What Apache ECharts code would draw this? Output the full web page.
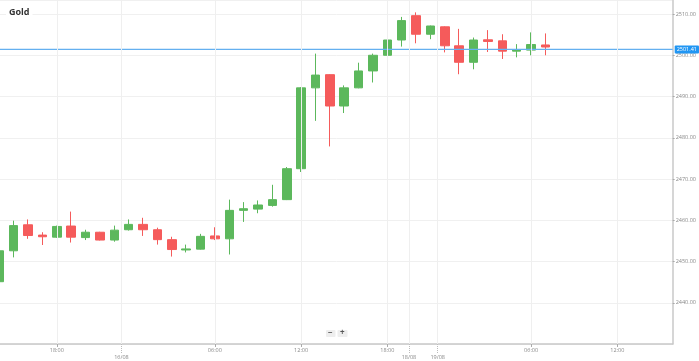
<!DOCTYPE html>
<html><head><meta charset="utf-8">
<script src="https://cdn.jsdelivr.net/npm/echarts@6/dist/echarts.min.js"></script>
<style>html,body{margin:0;padding:0;background:#fff}#c{width:699px;height:361px}</style>
</head><body><div id="c"></div>
<script>
// candle slot positions (trading-hour index on the x axis)
const slots  = [0,1,2,3,4,5,6,7,8,9,10,11,12,13,14,15,16,17,18,19,20,21,22,23,24,25,26,27,28,29,30,31,32,33,34,35,36,37,38];
const opens  = [2445.1,2452.6,2458.9,2456.4,2455.9,2458.6,2455.8,2457.1,2455.2,2457.7,2459.0,2457.7,2455.3,2452.8,2453.0,2456.2,2455.5,2462.4,2462.7,2463.6,2465.0,2472.5,2492.1,2495.3,2487.7,2492.1,2496.2,2500.0,2503.7,2509.6,2505.1,2506.9,2502.3,2498.3,2503.75,2503.5,2501.0,2501.25,2502.5];
const closes = [2452.6,2458.7,2456.3,2456.0,2458.5,2455.9,2457.1,2455.2,2457.6,2459.0,2457.7,2455.3,2452.9,2453.05,2456.1,2455.5,2462.4,2462.8,2463.7,2465.0,2472.5,2492.1,2495.2,2487.7,2492.1,2496.2,2500.0,2503.7,2508.4,2505.1,2507.1,2502.3,2498.3,2503.7,2503.35,2501.0,2501.3,2502.6,2502.0];
const lows   = [2445.0,2451.0,2455.5,2454.0,2455.7,2454.6,2455.2,2455.1,2454.8,2457.5,2456.2,2454.1,2451.2,2452.2,2452.9,2455.2,2451.7,2459.6,2461.7,2463.3,2464.9,2471.7,2484.1,2477.9,2486.0,2492.0,2493.4,2498.6,2502.1,2502.9,2503.9,2500.7,2495.4,2496.6,2500.8,2499.1,2499.5,2500.0,2500.0];
const highs  = [2452.8,2459.9,2460.2,2457.1,2458.7,2462.1,2457.7,2457.2,2458.7,2460.2,2460.6,2458.2,2456.0,2454.1,2456.7,2458.3,2465.0,2464.4,2464.8,2468.6,2472.9,2492.3,2500.4,2495.4,2492.7,2498.2,2500.4,2505.9,2509.3,2510.4,2507.2,2507.0,2506.4,2504.3,2506.1,2505.1,2502.7,2505.55,2505.3];

const timeTickSlots  = [4, 15, 21, 27, 37, 43];
const timeTickLabels = ['18:00','06:00','12:00','18:00','06:00','12:00'];
const dateTickSlots  = [8.5, 28.5, 30.5];
const dateTickLabels = ['16/08','18/08','19/08'];
const lastPrice = 2501.41;
const chartTitle = 'Gold';

const candleData = slots.map((s, i) => [s, opens[i], closes[i], lows[i], highs[i]]);
function lookup(vals, labels) {
  return function (v) {
    for (let i = 0; i < vals.length; i++) if (Math.abs(vals[i] - v) < 1e-6) return labels[i];
    return '';
  };
}
const FONT = 'Open Sans';
const xMin = 0.05, xMax = 46.85;
const PRICE_BLUE = '#64b0f0';

const vLines = timeTickSlots.concat(dateTickSlots).map(v => ({ xAxis: v }));

const chart = echarts.init(document.getElementById('c'), null, { renderer: 'canvas' });
chart.setOption({
  animation: false,
  backgroundColor: '#fff',
  color: [PRICE_BLUE],
  title: {
    text: chartTitle, left: 6, top: 5, padding: [3, 3],
    backgroundColor: '#fff',
    textStyle: { fontFamily: FONT, fontSize: 9, fontWeight: 'bold', color: '#333' }
  },
  grid: { left: 0, right: 25, top: 0, bottom: 17 },
  xAxis: [{
    type: 'value', min: xMin, max: xMax,
    axisLine: { show: true, lineStyle: { color: '#c8c8c8', width: 1.5 } },
    axisTick: { show: true, length: 3, customValues: timeTickSlots, lineStyle: { color: '#aaa' } },
    axisLabel: { customValues: timeTickSlots, formatter: lookup(timeTickSlots, timeTickLabels), fontFamily: FONT, fontSize: 5.5, color: '#888', margin: 3 },
    splitLine: { show: false }
  }, {
    type: 'value', min: xMin, max: xMax, position: 'bottom',
    axisLine: { show: false },
    axisTick: { show: true, length: 9, customValues: dateTickSlots, lineStyle: { color: '#bbb', type: 'dotted' } },
    axisLabel: { customValues: dateTickSlots, formatter: lookup(dateTickSlots, dateTickLabels), fontFamily: FONT, fontSize: 5.5, color: '#888', margin: 10 },
    splitLine: { show: false }
  }],
  yAxis: {
    type: 'value', position: 'right', min: 2430, max: 2513.4, interval: 10, scale: true,
    axisLine: { show: true, lineStyle: { color: '#c8c8c8', width: 1.5 } },
    axisTick: { show: true, length: 2, lineStyle: { color: '#aaa' } },
    axisLabel: { showMinLabel: false, showMaxLabel: false, fontFamily: FONT, fontSize: 5.5, color: '#888', margin: 3, formatter: v => v.toFixed(2) },
    splitLine: { show: true, lineStyle: { color: '#f0f0f0', width: 1 } }
  },
  series: [{
    type: 'candlestick',
    xAxisIndex: 0,
    data: candleData,
    encode: { x: 0, y: [1, 2, 3, 4] },
    barWidth: 9,
    itemStyle: { color: '#5cb85c', color0: '#f55b5b', borderColor: '#5cb85c', borderColor0: '#f55b5b', borderWidth: 1 },
    markLine: {
      silent: true, symbol: 'none', animation: false,
      lineStyle: { color: '#efefef', width: 1, type: 'solid', opacity: 1 },
      label: { show: false },
      data: vLines
    },
    z: 3
  }, {
    type: 'line',
    xAxisIndex: 0,
    color: PRICE_BLUE,
    data: [[xMin, lastPrice], [xMax, lastPrice]],
    symbol: 'none', silent: true,
    emphasis: { disabled: true },
    lineStyle: { color: PRICE_BLUE, width: 1.2, type: 'solid', opacity: 1 },
    itemStyle: { color: PRICE_BLUE },
    endLabel: {
      show: true, distance: 2,
      formatter: () => lastPrice.toFixed(2),
      backgroundColor: '#2196f3', color: '#fff', fontFamily: FONT, fontSize: 5.5,
      padding: [1, 2], borderRadius: 1
    },
    z: 4
  }],
  graphic: [
    { type: 'rect', left: 326, top: 330, shape: { width: 9.5, height: 7, r: 1 }, style: { fill: '#eeeeee' } },
    { type: 'rect', left: 337.5, top: 330, shape: { width: 10, height: 7, r: 1 }, style: { fill: '#eeeeee' } },
    { type: 'text', left: 328, top: 329, style: { text: '−', fill: '#555', font: 'bold 8px "Open Sans"' } },
    { type: 'text', left: 340, top: 328.5, style: { text: '+', fill: '#555', font: 'bold 8px "Open Sans"' } }
  ]
});
</script>
</body></html>
